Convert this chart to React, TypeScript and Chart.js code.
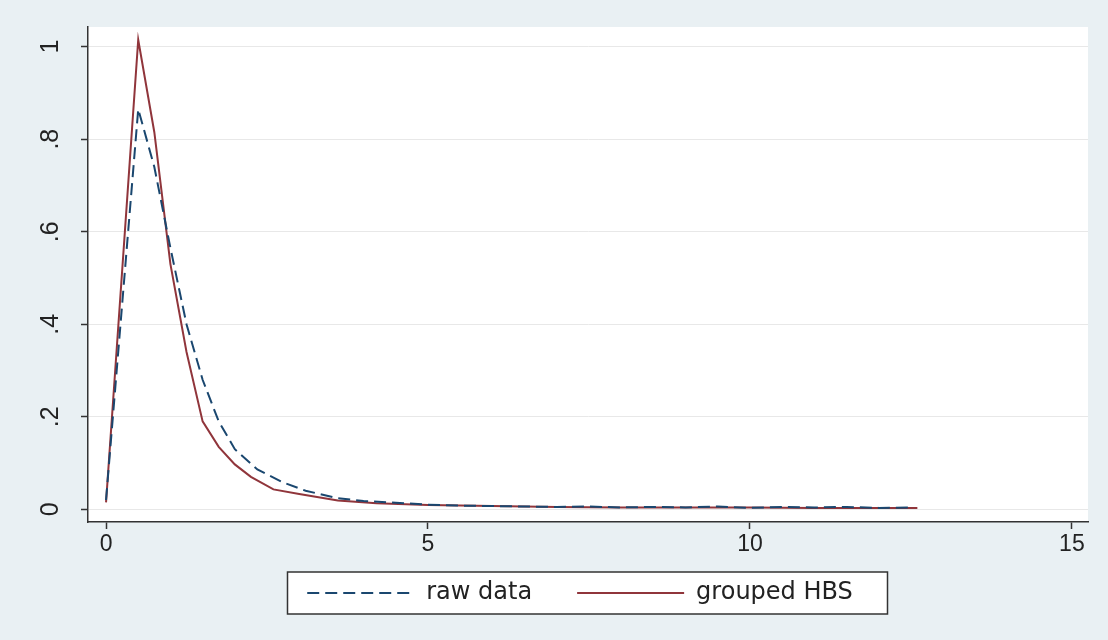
import React, { useEffect, useRef } from 'react';
import { Chart, registerables } from 'chart.js';

Chart.register(...registerables);

// ---- data ----
const RAW_X = [0, 0.5, 0.75, 1.0, 1.25, 1.5, 1.75, 2.0, 2.35, 2.75, 3.1, 3.6, 4.0, 4.5, 5.0, 5.5, 6.0, 6.5, 7.0, 7.5, 8.0, 8.5, 9.0, 9.5, 10.0, 10.5, 11.0, 11.5, 12.0, 12.5];
const RAW_Y = [0.02, 0.865, 0.74, 0.565, 0.40, 0.28, 0.19, 0.13, 0.086, 0.058, 0.04, 0.024, 0.018, 0.014, 0.01, 0.008, 0.007, 0.006, 0.005, 0.006, 0.004, 0.005, 0.004, 0.006, 0.003, 0.005, 0.004, 0.005, 0.003, 0.004];

const GROUPED_X = [0, 0.5, 0.75, 1.0, 1.25, 1.5, 1.75, 2.0, 2.25, 2.6, 3.0, 3.6, 4.2, 5.0, 6.0, 7.0, 8.0, 9.0, 10.0, 11.0, 12.0, 12.6];
const GROUPED_Y = [0.015, 1.015, 0.815, 0.53, 0.34, 0.19, 0.135, 0.097, 0.07, 0.043, 0.033, 0.019, 0.013, 0.009, 0.007, 0.005, 0.004, 0.004, 0.004, 0.003, 0.003, 0.003];

const SERIES_LABELS = ['raw data', 'grouped HBS'];
const X_TICKS = [0, 5, 10, 15];
const Y_TICKS = [0, 0.2, 0.4, 0.6, 0.8, 1];
const Y_TICK_LABELS = ['0', '.2', '.4', '.6', '.8', '1'];

const BG = '#e9f0f3';
const NAVY = '#1a476f';
const MAROON = '#90353b';
const LEGEND_PAD = 45;
const LEGEND_FONT = 24;
const LEGEND_TEXT_CY = 593;
const LEGEND_ITEMS_CX = 580;

const bgPlugin = {
  id: 'stataBg',
  afterLayout(chart: any) {
    const lg = chart.legend;
    if (!lg) return;
    const h = lg.bottom - lg.top;
    const newTop = LEGEND_TEXT_CY - LEGEND_PAD - LEGEND_FONT / 2;
    lg.top = newTop;
    lg.bottom = newTop + h;
    const dx = LEGEND_ITEMS_CX - (lg.left + lg.right) / 2;
    lg.left += dx;
    lg.right += dx;
  },
  beforeDraw(chart: any) {
    const { ctx, width, height, chartArea: ca } = chart;
    ctx.save();
    ctx.fillStyle = BG;
    ctx.fillRect(0, 0, width, height);
    ctx.fillStyle = '#ffffff';
    ctx.fillRect(ca.left, ca.top, ca.right - ca.left, ca.bottom - ca.top);
    const lg = chart.legend;
    if (lg) {
      const cx = (lg.left + lg.right) / 2 + 7.5;
      const cy = lg.top + LEGEND_PAD + LEGEND_FONT / 2;
      ctx.fillStyle = '#ffffff';
      ctx.fillRect(cx - 300, cy - 21, 600, 42);
      ctx.strokeStyle = '#333333';
      ctx.lineWidth = 1.5;
      ctx.strokeRect(cx - 300, cy - 21, 600, 42);
    }
    ctx.restore();
  },
};

export default function App() {
  const ref = useRef<HTMLCanvasElement>(null);
  useEffect(() => {
    document.body.style.margin = '0';
    const canvas = ref.current;
    if (!canvas) return;
    const chart = new Chart(canvas, {
      type: 'line',
      data: {
        datasets: [
          {
            label: SERIES_LABELS[0],
            data: RAW_X.map((x, i) => ({ x, y: RAW_Y[i] })),
            borderColor: NAVY,
            backgroundColor: NAVY,
            borderWidth: 2,
            borderDash: [12, 6],
            pointRadius: 0,
            tension: 0,
            fill: false,
          },
          {
            label: SERIES_LABELS[1],
            data: GROUPED_X.map((x, i) => ({ x, y: GROUPED_Y[i] })),
            borderColor: MAROON,
            backgroundColor: MAROON,
            borderWidth: 2,
            pointRadius: 0,
            tension: 0,
            fill: false,
          },
        ],
      },
      plugins: [bgPlugin],
      options: {
        animation: false,
        responsive: false,
        layout: { padding: { top: 27, right: 20, bottom: 1, left: 0 } },
        plugins: {
          tooltip: { enabled: false },
          legend: {
            position: 'bottom',
            align: 'center',
            labels: {
              usePointStyle: true,
              pointStyle: 'line',
              pointStyleWidth: 107,
              padding: LEGEND_PAD,
              color: '#222222',
              font: { family: '"DejaVu Sans", sans-serif', size: LEGEND_FONT },
              generateLabels: (ch: any) => {
                const items = Chart.defaults.plugins.legend.labels.generateLabels(ch);
                return items.map((it: any) => {
                  const ds = ch.data.datasets[it.datasetIndex];
                  return {
                    ...it,
                    lineDash: ds.borderDash || [],
                    lineWidth: ds.borderWidth,
                    strokeStyle: ds.borderColor,
                    fillStyle: ds.borderColor,
                    pointStyle: 'line',
                  };
                });
              },
            },
          },
        },
        scales: {
          x: {
            type: 'linear',
            min: -0.28,
            max: 15.25,
            afterBuildTicks: (scale: any) => {
              scale.ticks = X_TICKS.map((v) => ({ value: v }));
            },
            afterFit: (scale: any) => {
              scale.height = 38;
              scale.paddingLeft = 0;
              scale.paddingRight = 0;
            },
            ticks: {
              autoSkip: false,
              color: '#222222',
              padding: 2,
              maxRotation: 0,
              font: { family: '"Liberation Sans", Arial, sans-serif', size: 23 },
              callback: (v: any) => String(v),
            },
            grid: {
              drawOnChartArea: false,
              tickColor: '#333333',
              tickLength: 7,
              tickWidth: 1.5,
            },
            border: { color: '#333333', width: 1.5 },
          },
          y: {
            type: 'linear',
            min: -0.0275,
            max: 1.0425,
            afterBuildTicks: (scale: any) => {
              scale.ticks = Y_TICKS.map((v) => ({ value: v }));
            },
            afterFit: (scale: any) => {
              scale.width = 88;
              scale.paddingTop = 0;
              scale.paddingBottom = 0;
            },
            ticks: {
              autoSkip: false,
              color: '#222222',
              padding: 19,
              minRotation: 90,
              maxRotation: 90,
              crossAlign: 'center',
              font: { family: '"Liberation Sans", Arial, sans-serif', size: 25 },
              callback: (v: any) => {
                const idx = Y_TICKS.findIndex((t) => Math.abs(t - v) < 1e-9);
                return idx >= 0 ? Y_TICK_LABELS[idx] : '';
              },
            },
            grid: {
              color: '#e8e8e8',
              lineWidth: 1,
              tickColor: '#333333',
              tickLength: 7,
              tickWidth: 1.5,
            },
            border: { color: '#333333', width: 1.5 },
          },
        },
      },
    } as any);
    return () => chart.destroy();
  }, []);
  return (
    <div style={{ width: 1108, height: 640 }}>
      <canvas ref={ref} width={1108} height={640} style={{ display: 'block' }} />
    </div>
  );
}
